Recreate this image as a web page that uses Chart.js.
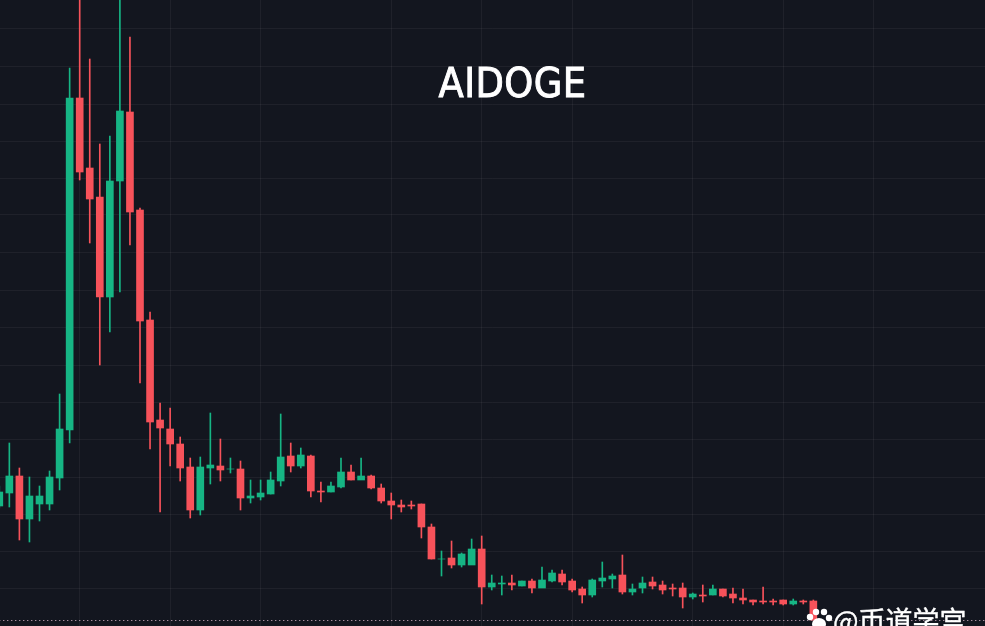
<!DOCTYPE html>
<html>
<head>
<meta charset="utf-8">
<title>AIDOGE</title>
<script src="https://cdn.jsdelivr.net/npm/chart.js@4"></script>
<style>
  html, body { margin: 0; padding: 0; background: #13161f; overflow: hidden; }
  #wrap { width: 985px; height: 626px; }
</style>
</head>
<body>
<div id="wrap"><canvas id="Graph1"></canvas></div>
<script>
// candles, price axis has no labels so units are arbitrary
const opens = [120,133,150,107,122,122,148,196,528,458,429,329,445,514,416,306,206,197,182,159,116,158,160,157,157,128,129,132,145,170,160,170,135,134,139,154,146,150,138,125,121,121,122,99,67,68,61,61,77,39,42,43,40,45,38,45,52,45,37,31,45,47,51,34,38,44,41,38,38,29,31,31,37,32,28,26,25,25,26,22,25,25];
const closes = [134,150,107,130,130,149,197,528,454,427,329,445,515,414,305,204,198,182,158,116,159,161,156,157,128,130,133,146,169,160,171,135,134,140,154,146,150,138,125,121,119,120,99,67,67,61,72,77,39,43,43,41,45,38,46,53,44,36,31,46,48,50,34,37,43,40,36,37,29,32,30,37,30,28,26,24,24,24,22,25,24,6];
const highs = [140,183,158,149,140,155,232,558,660,567,482,490,660,589,418,314,223,218,189,168,169,213,187,168,165,146,146,154,212,183,178,171,144,144,168,161,168,151,142,133,126,125,122,102,75,85,73,87,90,51,50,51,45,47,59,56,56,47,39,47,64,52,71,42,49,49,45,42,43,33,41,41,37,38,37,26,39,27,26,27,26,26];
const lows = [118,119,86,84,105,116,136,183,446,383,261,294,334,381,243,177,114,160,145,108,111,142,145,153,116,123,126,132,140,154,158,129,124,134,138,146,147,137,123,107,114,117,88,67,50,58,59,64,22,36,31,36,40,33,45,44,41,34,23,29,39,38,32,31,33,37,32,30,18,27,24,31,29,23,22,21,22,21,21,21,22,6];

// vertical and horizontal grid positions
const timeTicks = [8,17,26,39,48,57,69,78,87];
const priceTicks = [38,75,112,149,187,224,261,299,336,373,411,448,485,522,560,597];

const lastPrice = [5.5, 5.5];
const lastPriceRange = [0, 98.1];
const pageTitle = 'AIDOGE';
const watermark = '@币道学宫';

const green = '#16b584';
const red = '#f7525a';

const idx = opens.map((v, i) => i);
const colors = idx.map(i => closes[i] >= opens[i] ? green : red);

// title and the watermark sit on top of the chart
const overlay = {
    id: 'overlay',
    afterDraw(chart) {
        const ctx = chart.ctx;
        ctx.save();
        ctx.textBaseline = 'alphabetic';
        ctx.textAlign = 'center';
        ctx.fillStyle = '#ffffff';
        ctx.strokeStyle = '#ffffff';
        ctx.lineWidth = 0.9;
        ctx.letterSpacing = '0.4px';
        ctx.font = '41px "DejaVu Sans Condensed", "DejaVu Sans"';
        ctx.fillText(pageTitle, 512.5, 97);
        ctx.strokeText(pageTitle, 512.5, 97);

        ctx.textAlign = 'left';
        ctx.lineWidth = 0.4;
        ctx.letterSpacing = '0px';
        ctx.font = '27px "Noto Sans CJK SC"';
        ctx.fillText(watermark, 833, 631);
        ctx.strokeText(watermark, 833, 631);

        // paw icon in front of the watermark
        [[810,617,3.2],[816,612,3.2],[824,612,3.2],[829,618,3.2]].forEach(p => {
            ctx.beginPath();
            ctx.arc(p[0], p[1], p[2], 0, Math.PI * 2);
            ctx.fill();
        });
        ctx.beginPath();
        ctx.ellipse(819, 624, 7, 6, 0, 0, Math.PI * 2);
        ctx.fill();
        ctx.restore();
    }
};

new Chart(document.getElementById('Graph1'), {
    data: {
        datasets: [{
            type: 'line',
            data: lastPriceRange.map((x, i) => ({x: x, y: lastPrice[i]})),
            borderColor: '#e0bcd0',
            borderWidth: 1,
            borderDash: [1, 3],
            pointRadius: 0,
            order: 3
        }, {
            type: 'bar',
            data: idx.map(i => ({x: i, y: [lows[i], highs[i]]})),
            backgroundColor: colors,
            barThickness: 1,
            grouped: false,
            order: 2
        }, {
            type: 'bar',
            data: idx.map(i => ({x: i, y: [opens[i], closes[i]]})),
            backgroundColor: colors,
            barThickness: 7,
            grouped: false,
            order: 1
        }]
    },
    options: {
        responsive: true,
        maintainAspectRatio: false,
        animation: false,
        layout: { padding: 0 },
        plugins: { legend: { display: false }, tooltip: { enabled: false } },
        scales: {
            x: {
                type: 'linear',
                min: 0.07,
                max: 98.08,
                offset: false,
                afterBuildTicks: axis => { axis.ticks = timeTicks.map(v => ({value: v})); },
                ticks: { display: false },
                grid: { offset: false, color: 'rgba(255,255,255,0.05)', drawTicks: false },
                border: { display: false }
            },
            y: {
                min: 0,
                max: 626,
                afterBuildTicks: axis => { axis.ticks = priceTicks.map(v => ({value: v})); },
                ticks: { display: false },
                grid: { color: 'rgba(255,255,255,0.05)', drawTicks: false },
                border: { display: false }
            }
        }
    },
    plugins: [overlay]
});
</script>
</body>
</html>
